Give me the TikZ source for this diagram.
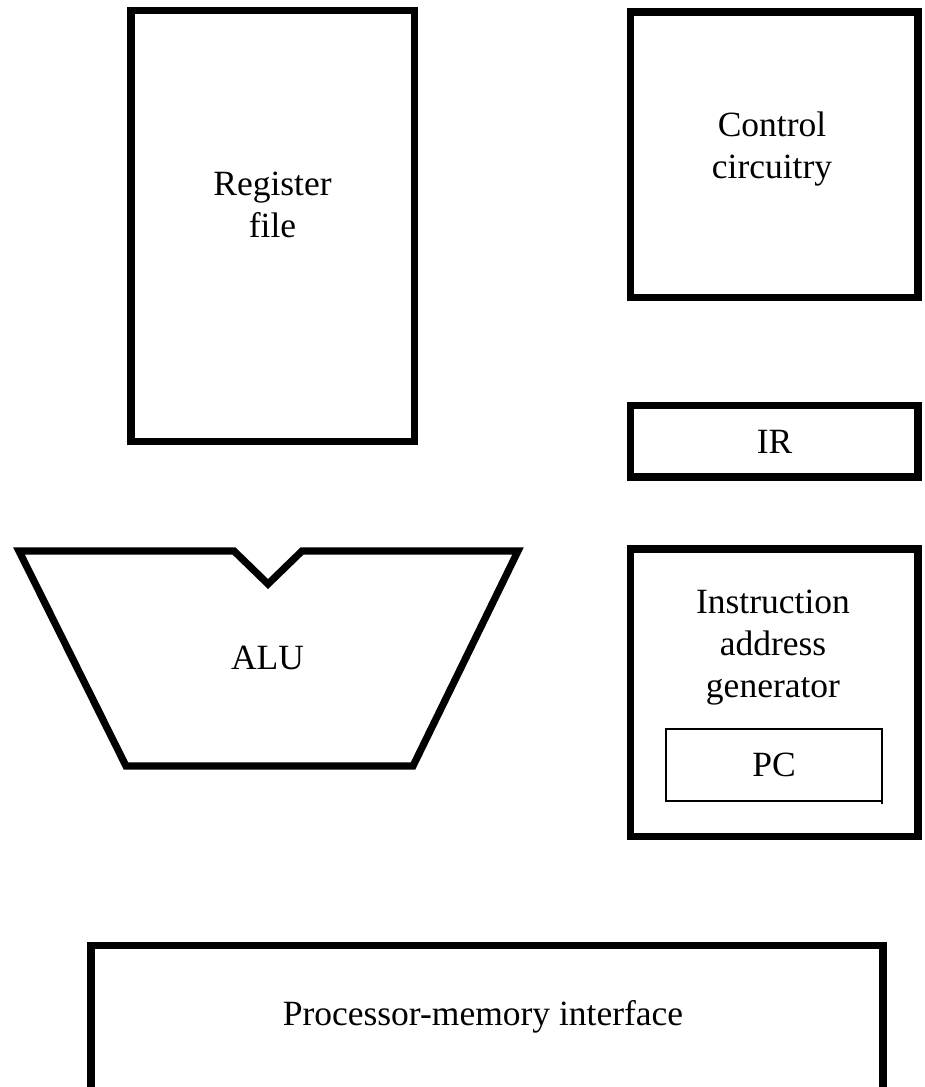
\documentclass[tikz,border=0pt]{standalone}
\usepackage{fontspec}
\setmainfont{Liberation Serif}
\begin{document}
\begin{tikzpicture}[x=1pt,y=-1pt,
  unit/.style={draw=black,line width=7.2pt,line join=miter},
  thinunit/.style={draw=black,line width=2pt},
  lbl/.style={inner sep=0pt,align=center,font=\fontsize{35.5}{42}\selectfont}]
  \useasboundingbox (0,0) rectangle (925,1087);
  \clip (0,0) rectangle (925,1087);

  % register file
  \draw[unit] (131,10.3) rectangle (414.5,441.5);
  \node[lbl] (regfile) at (272.5,205) {Register\\file};

  % control circuitry
  \draw[unit] (630.5,12) rectangle (918,297.5);
  \node[lbl] (ctrl) at (772,149) {Control\\circuitry};

  % instruction register
  \draw[unit] (630.5,405.5) rectangle (918,477);
  \node[lbl] (ir) at (774.5,442) {IR};

  % arithmetic-logic unit with the notch on its top edge
  \draw[unit] (19,551) -- (234,551) -- (268,584) -- (302,551) -- (518,551)
    -- (413,766) -- (126,766) -- cycle;
  \node[lbl] (alu) at (267.5,658) {ALU};

  % instruction address generator holding the program counter
  \draw[unit] (630.5,549) rectangle (918,836.5);
  \node[lbl] (iag) at (773,648) {Instruction\\address\\generator};
  \draw[thinunit] (666,729) rectangle (882,801);
  \draw[thinunit] (882,801) -- (882,804);
  \node[lbl] (pc) at (774,765) {PC};

  % processor-memory interface, running off the lower edge
  \draw[unit] (91,1120) -- (91,945.5) -- (883,945.5) -- (883,1120);
  \node[lbl] (pmi) at (483,1017) {Processor-memory interface};
\end{tikzpicture}
\end{document}
